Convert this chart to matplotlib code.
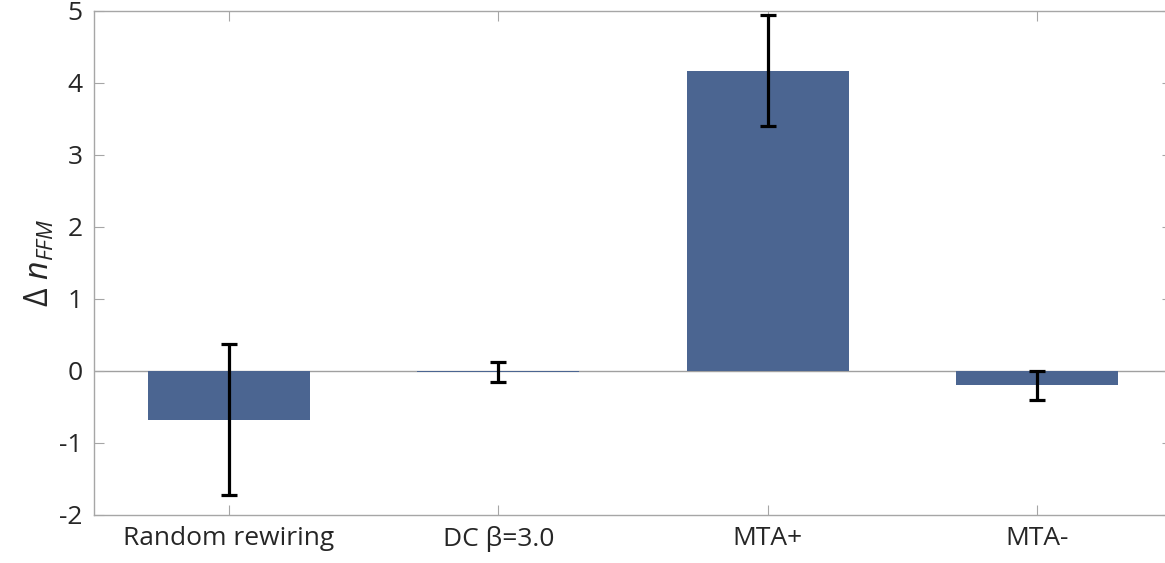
import matplotlib
matplotlib.use("Agg")
import matplotlib.pyplot as plt
import numpy as np

categories = ["Random rewiring", "DC β=3.0", "MTA+", "MTA-"]
delta_n = [-0.675, -0.01, 4.17, -0.20]
err = [1.05, 0.14, 0.77, 0.20]

plt.rcParams["font.family"] = ["Open Sans", "DejaVu Sans"]
plt.rcParams["mathtext.fontset"] = "custom"
plt.rcParams["mathtext.rm"] = "Open Sans"
plt.rcParams["mathtext.it"] = "Open Sans:italic"
plt.rcParams["axes.unicode_minus"] = False

fig = plt.figure(figsize=(11.65, 5.63), dpi=100)
ax = fig.add_axes([94 / 1165, 48 / 563, 1078 / 1165, 504 / 563])

x = np.arange(1, len(categories) + 1)
ax.bar(x, delta_n, width=0.6, color="#4B6591", zorder=2)
ax.errorbar(x, delta_n, yerr=err, fmt="none", ecolor="black", elinewidth=2.3,
            capsize=6, capthick=2.3, zorder=3)
ax.axhline(0, color="#a0a0a0", lw=1.0, zorder=1)

ax.set_xlim(0.5, 4.5)
ax.set_ylim(-2, 5)
ax.set_xticks(x)
ax.set_xticklabels(categories)
ax.set_yticks(range(-2, 6))
ax.set_ylabel(r"$\Delta\ n_{FFM}$", fontsize=23, color="#262626", labelpad=2)

for s in ax.spines.values():
    s.set_color("#a6a6a6")
    s.set_linewidth(1.0)
ax.spines["right"].set_visible(False)
ax.tick_params(direction="in", length=7, width=0.8, color="#a6a6a6",
               top=True, right=True, labelsize=19, labelcolor="#262626")
ax.tick_params(axis="x", pad=8)
ax.tick_params(axis="y", pad=8)

fig.savefig("out.png", dpi=100)
